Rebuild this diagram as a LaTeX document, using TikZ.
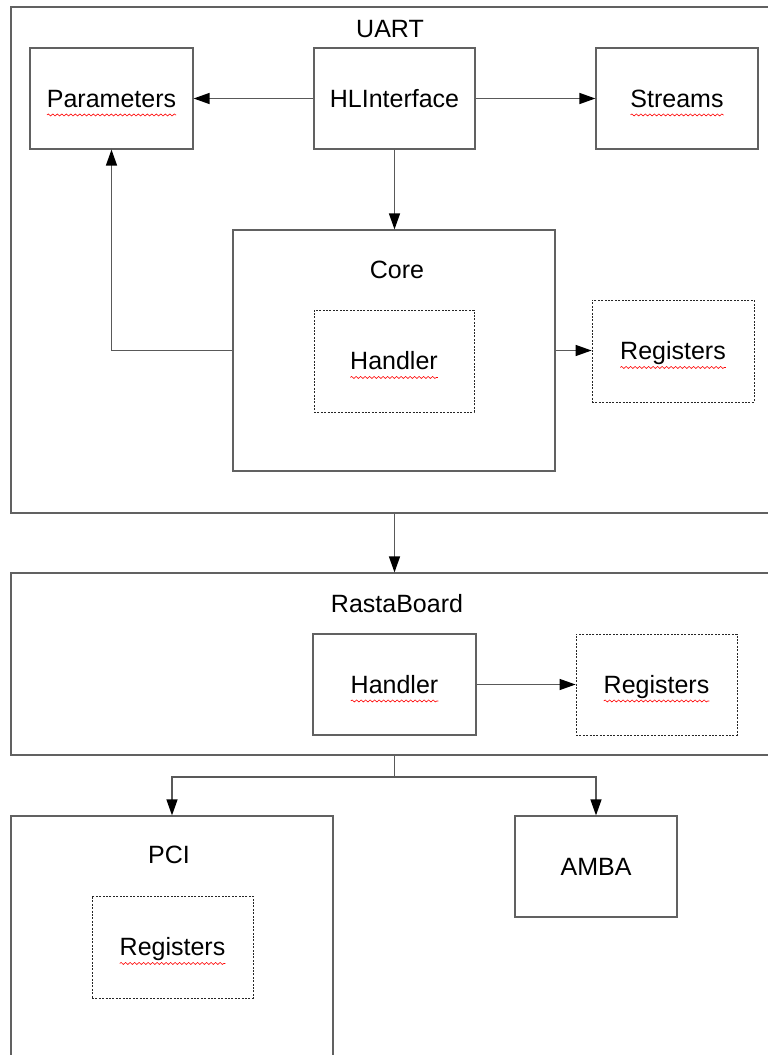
\documentclass[tikz,border=0pt]{standalone}
\usepackage{fontspec}
\setmainfont{Liberation Sans}
\usetikzlibrary{arrows.meta,calc,decorations.pathmorphing}
% sottolineatura ondulata rossa sotto il testo di un nodo
\newcommand{\ondulato}[1]{\draw[onda] let \p1=(#1.text), \p2=(#1.center) in (\x1,\y1-7.5) -- (2*\x2-\x1,\y1-7.5);}

\begin{document}
\begin{tikzpicture}[x=1pt,y=-1pt,
    testo/.style={inner sep=0pt, font=\fontsize{25}{30}\selectfont, text height=17.9pt, text depth=0pt},
    blocco/.style={testo, draw=black!62, line width=1.2pt},
    punti/.style={testo, draw=black!85, line width=0.8pt, dash pattern=on 2pt off 1.4pt},
    freccia/.style={draw=black!65, line width=1.3pt, -{Triangle[length=16pt,width=11pt,color=black]}},
    onda/.style={red, line width=0.6pt, decorate, decoration={snake, amplitude=1pt, segment length=4.5pt}}]
    \useasboundingbox (0,0) rectangle (768,1055);
    \clip (0,0) rectangle (768,1055);

        % Riquadri esterni
        \node[blocco, minimum width=779pt, minimum height=506pt] (uart) at (400.5,260) {};
        \node[blocco, minimum width=779pt, minimum height=182pt] (rasta) at (400.5,664) {};
        \node[blocco, minimum width=322pt, minimum height=264pt] (pci) at (172,948) {};
        \node[testo] (uarttxt) at (390,28.5) {UART};
        \node[testo] (rastatxt) at (397,603.5) {RastaBoard};
        \node[testo] (pcitxt) at (169,855) {PCI};

        % Blocchi di UART
        \node[blocco, minimum width=163pt, minimum height=101pt] (params) at (111.5,98.5) {Parameters};
        \node[blocco, minimum width=161pt, minimum height=101pt] (hli) at (394.5,98.5) {HLInterface};
        \node[blocco, minimum width=162pt, minimum height=101pt] (streams) at (677,98.5) {Streams};
        \node[blocco, minimum width=322pt, minimum height=241pt] (core) at (394,350.5) {};
        \node[testo] (coretxt) at (397,270) {Core};
        \node[punti, minimum width=160pt, minimum height=102pt] (handlera) at (394,361) {Handler};
        \node[punti, minimum width=162pt, minimum height=102pt] (rega) at (673,351) {Registers};

        % Blocchi di RastaBoard, PCI e AMBA
        \node[blocco, minimum width=163pt, minimum height=101pt] (handlerb) at (394.5,684.5) {Handler};
        \node[punti, minimum width=161pt, minimum height=101pt] (regb) at (656.5,684.5) {Registers};
        \node[punti, minimum width=161pt, minimum height=102pt] (regc) at (172.5,947) {Registers};
        \node[blocco, minimum width=162pt, minimum height=101pt] (amba) at (596,866.5) {AMBA};

        % Sottolineature
        \ondulato{params}
        \ondulato{streams}
        \ondulato{handlera}
        \ondulato{rega}
        \ondulato{handlerb}
        \ondulato{regb}
        \ondulato{regc}

        % Frecce
        \draw[freccia] (hli) -- (params);
        \draw[freccia] (hli) -- (streams);
        \draw[freccia] (hli.south) -- (hli.south |- core.north);
        \draw[freccia] (core.west) -| (params.south);
        \draw[freccia] (core.east) -- (core.east -| rega.west);
        \draw[freccia] (handlerb) -- (regb);
        \draw[freccia] (hli.south |- uart.south) -- (hli.south |- rasta.north);
        \coordinate (bivio) at (394.5,777);
        \draw[draw=black!65, line width=1.3pt] (handlerb.south |- rasta.south) -- (bivio);
        \draw[freccia] (bivio) -| (pci.north);
        \draw[freccia] (bivio) -| (amba.north);
\end{tikzpicture}
\end{document}
